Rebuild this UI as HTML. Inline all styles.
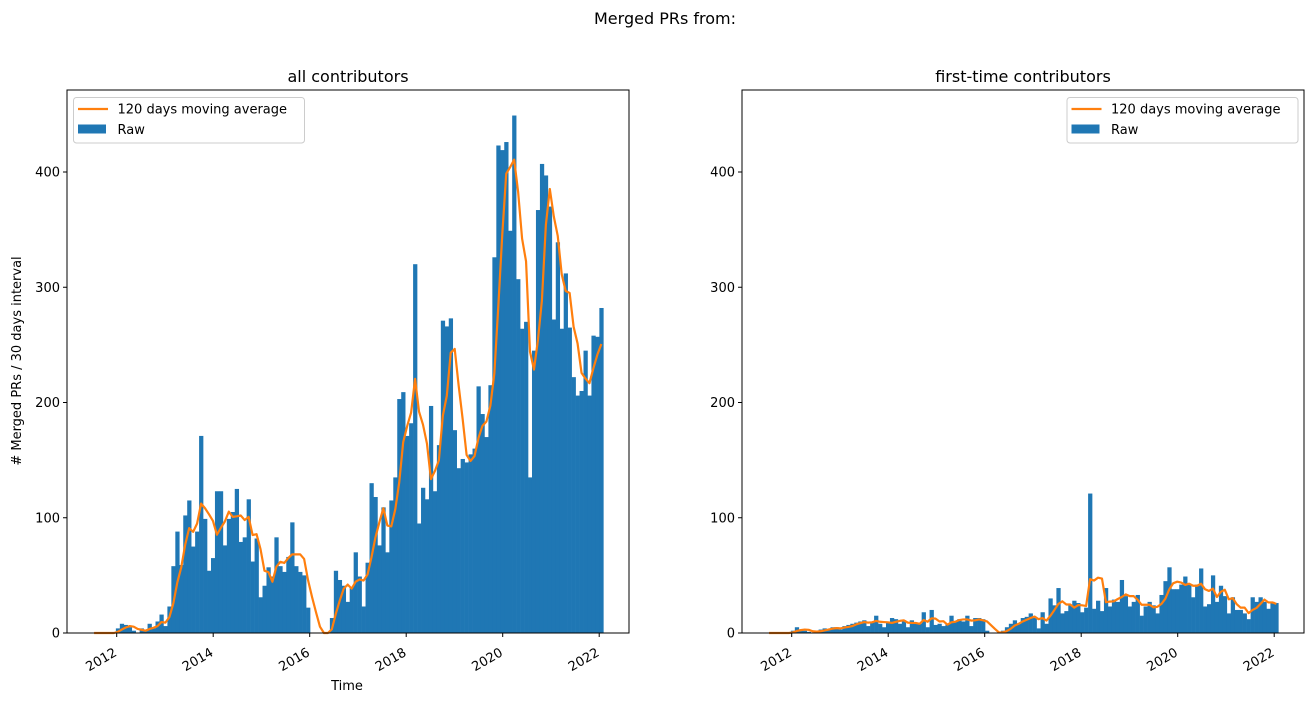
<!DOCTYPE html>
<html><head><meta charset="utf-8"><style>
body{margin:0;background:#fff;}
svg{display:block;font-family:"DejaVu Sans","Liberation Sans",sans-serif;}
</style></head><body>
<svg id="fig" width="1315" height="703" viewBox="0 0 1315 703" xmlns="http://www.w3.org/2000/svg">
<rect width="1315" height="703" fill="#fff"/>
<text x="665" y="24" font-size="16" text-anchor="middle">Merged PRs from:</text>
<g id="left"></g><g id="right"></g>
<text transform="translate(21,361) rotate(-90)" font-size="13" text-anchor="middle"># Merged PRs / 30 days interval</text>
<text x="347" y="690" font-size="13" text-anchor="middle">Time</text>
</svg>
<script>
const allRaw = [0,0,0,0,0,0,4,8,7,5,2,0,4,2,8,4,10,16,6,23,58,88,59,102,115,75,88,171,99,54,65,123,123,76,
99,105,125,79,83,116,62,82,31,41,57,49,83,58,53,66,96,58,53,50,22,0,0,0,0,0,13,54,
46,41,27,40,70,49,23,
61,130,118,76,109,70,115,135,203,209,171,182,320,95,126,116,197,123,163,271,266,273,176,143,151,148,
155,160,214,190,170,215,326,423,419,426,349,449,307,264,270,135,245,367,407,397,370,272,339,264,312,265,222,206,210,245,206,258,257,282];
const firstRaw = [0,0,0,0,0,0,2,5,3,2,1,0,2,3,4,3,5,5,3,6,7,8,9,10,11,6,10,15,8,5,9,13,12,8,11,5,11,8,8,18,5,20,7,8,6,8,15,10,12,10,15,6,13,13,12,2,0,0,0,2,5,8,11,8,13,
14,17,13,4,18,8,30,24,39,17,19,24,28,26,18,22,121,21,28,19,39,23,29,27,46,32,23,27,33,15,23,27,24,17,33,45,57,38,38,42,49,42,31,42,56,23,25,50,27,41,32,17,31,20,20,17,12,31,27,31,27,21,27,26];
const yTicks = [0,100,200,300,400];
const xTickYears = [2012,2014,2016,2018,2020,2022];
const t0 = 2011.49, barYears = 30/365.25;
const NS="http://www.w3.org/2000/svg";
function mk(tag,attrs,parent){const e=document.createElementNS(NS,tag);for(const k in attrs)e.setAttribute(k,attrs[k]);parent.appendChild(e);return e;}
function drawPanel(gid,x0,raw,title,legendRight){
  const g=document.getElementById(gid);
  const L=x0,R=x0+562,T=90,B=633;
  const xs=y=>116.7-67+L+(y-2012)*48.25;
  const ys=v=>B-v*1.1525;
  const bars=mk('g',{},g);
  
  
  raw.forEach((v,i)=>{
    const xa=xs(t0+i*barYears), xb=xs(t0+(i+1)*barYears);
    const r=mk('rect',{x:xa,y:ys(v),width:xb-xa+0.3,height:B-ys(v),fill:'#1f77b4'},bars);
    
    
  });
  const pts=raw.map((v,i)=>{let s=0,n=0;for(let k=Math.max(0,i-3);k<=i;k++){s+=raw[k];n++;}return [xs(t0+i*barYears+barYears*0.5),ys(s/n)];});
  const ln=mk('polyline',{points:pts.map(p=>p.join(',')).join(' '),fill:'none',stroke:'#ff7f0e','stroke-width':2.2,'stroke-linejoin':'round'},g);
  
  
  const fr=mk('rect',{x:L,y:T,width:R-L,height:B-T,fill:'none',stroke:'#000','stroke-width':1},g);
  
  
  yTicks.forEach(v=>{
    mk('line',{x1:L-4,x2:L,y1:ys(v),y2:ys(v),stroke:'#000'},g);
    const t=mk('text',{x:L-7,y:ys(v)+4.5,'font-size':13,'text-anchor':'end'},g);t.textContent=v;
    
    
  });
  xTickYears.forEach(yr=>{
    const x=xs(yr);
    mk('line',{x1:x,x2:x,y1:B,y2:B+4,stroke:'#000'},g);
    const t=mk('text',{transform:`translate(${x+1},${B+22}) rotate(-30)`,'font-size':13,'text-anchor':'end'},g);t.textContent=yr;
    
    
  });
  const tt=mk('text',{x:(L+R)/2,y:82,'font-size':16,'text-anchor':'middle'},g);tt.textContent=title;
  
  
  const lx=legendRight?R-237:L+6.5;
  const lg=mk('g',{},g);
  
  
  mk('rect',{x:lx,y:97.5,width:231,height:45.5,rx:3,fill:'#fff',stroke:'#ccc'},lg);
  mk('line',{x1:lx+4.5,x2:lx+34.5,y1:109,y2:109,stroke:'#ff7f0e','stroke-width':2.2},lg);
  const a=mk('text',{x:lx+44,y:113.5,'font-size':13},lg);a.textContent='120 days moving average';
  
  
  mk('rect',{x:lx+4.5,y:124.5,width:28,height:9,fill:'#1f77b4'},lg);
  const b=mk('text',{x:lx+44,y:134,'font-size':13},lg);b.textContent='Raw';
  
  
}
drawPanel('left',67,allRaw,'all contributors',false);
drawPanel('right',742,firstRaw,'first-time contributors',true);
</script>
</body></html>
